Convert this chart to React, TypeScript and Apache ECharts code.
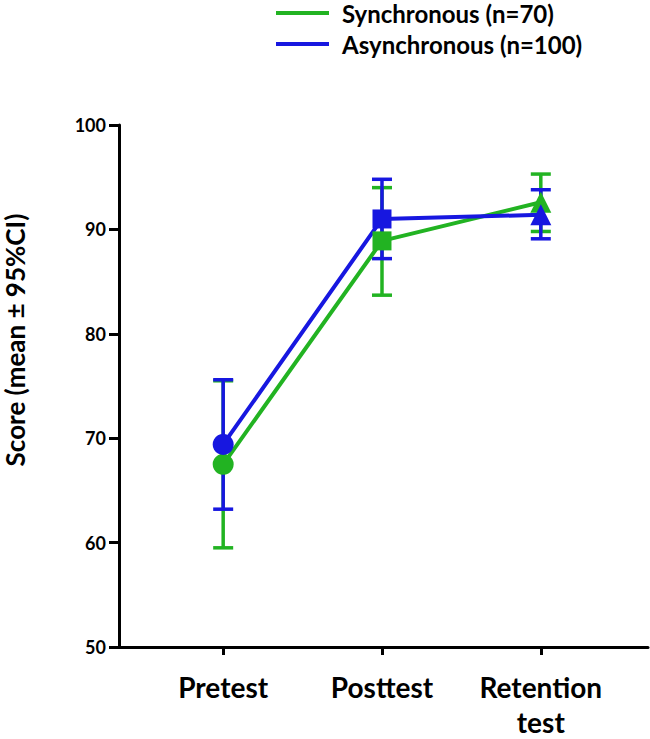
import React, { useEffect, useRef } from "react";
import * as echarts from "echarts";

const categories = ["Pretest", "Posttest", "Retention\ntest"];
const categoryPos = [0, 1, 2];
const seriesNames = ["Synchronous (n=70)", "Asynchronous (n=100)"];
const syncMean = [67.5, 88.9, 92.6];
const syncLow = [59.5, 83.7, 89.8];
const syncHigh = [75.5, 94.0, 95.3];
const asyncMean = [69.4, 91.0, 91.4];
const asyncLow = [63.2, 87.2, 89.1];
const asyncHigh = [75.6, 94.8, 93.8];
const symbols = ["circle", "rect", "triangle"];
const yTitle = "Score (mean \u00b1 95%CI)";

const GREEN = "#22b322";
const BLUE = "#1717e0";
const FONT = "Lato";

function errorSeries(name: string, low: number[], high: number[], color: string) {
  return {
    type: "custom",
    name,
    data: categoryPos.map((x, i) => [x, low[i], high[i]]),
    encode: { x: 0, y: [1, 2] },
    renderItem: (params: any, api: any) => {
      const x = api.value(0);
      const lo = api.coord([x, api.value(1)]);
      const hi = api.coord([x, api.value(2)]);
      const hw = 10;
      const style = { stroke: color, lineWidth: 3.5 };
      return {
        type: "group",
        children: [
          { type: "line", shape: { x1: lo[0], y1: lo[1], x2: hi[0], y2: hi[1] }, style },
          { type: "line", shape: { x1: lo[0] - hw, y1: lo[1], x2: lo[0] + hw, y2: lo[1] }, style },
          { type: "line", shape: { x1: hi[0] - hw, y1: hi[1], x2: hi[0] + hw, y2: hi[1] }, style },
        ],
      };
    },
  };
}

function lineSeries(name: string, mean: number[], color: string) {
  return {
    type: "line",
    name,
    data: categoryPos.map((x, i) => ({
      value: [x, mean[i]],
      symbol: symbols[i],
      symbolSize: symbols[i] === "rect" ? 19 : 21,
    })),
    lineStyle: { color, width: 4 },
    itemStyle: { color },
  };
}

export default function App() {
  const ref = useRef<HTMLDivElement>(null);
  useEffect(() => {
    if (!ref.current) return;
    const chart = echarts.init(ref.current, undefined, { renderer: "svg" });
    const labelStyle = { fontFamily: FONT, fontWeight: "bold", color: "#000" };
    chart.setOption({
      animation: false,
      legend: {
        data: seriesNames,
        orient: "vertical",
        left: 276,
        top: -1,
        padding: 0,
        icon: "rect",
        itemWidth: 53,
        itemHeight: 4,
        itemGap: 3,
        textStyle: { ...labelStyle, fontSize: 24, lineHeight: 28, padding: [0, 0, 0, 8] },
      },
      grid: { left: 119, right: 2, top: 125, bottom: 86 },
      xAxis: {
        type: "value",
        min: -0.656,
        max: 2.675,
        splitLine: { show: false },
        axisLine: { show: true, onZero: false, lineStyle: { color: "#000", width: 3 } },
        axisTick: { show: true, customValues: categoryPos, length: 8, lineStyle: { color: "#000", width: 3 } },
        axisLabel: {
          customValues: categoryPos,
          margin: 22,
          ...labelStyle,
          fontSize: 28,
          lineHeight: 35,
          formatter: (v: number) => categories[Math.round(v)],
        },
      },
      yAxis: {
        type: "value",
        min: 50,
        max: 100,
        interval: 10,
        splitLine: { show: false },
        axisLine: { show: true, onZero: false, lineStyle: { color: "#000", width: 3 } },
        axisTick: { show: true, length: 10, lineStyle: { color: "#000", width: 3 } },
        axisLabel: { ...labelStyle, fontSize: 18, margin: 13 },
      },
      graphic: [
        {
          type: "text",
          x: 15,
          y: 340,
          rotation: Math.PI / 2,
          style: {
            text: yTitle,
            fontFamily: FONT,
            fontWeight: "bold",
            fontSize: 26,
            fill: "#000",
            align: "center",
            verticalAlign: "middle",
          },
        },
      ],
      series: [
        errorSeries("syncErr", syncLow, syncHigh, GREEN),
        lineSeries(seriesNames[0], syncMean, GREEN),
        errorSeries("asyncErr", asyncLow, asyncHigh, BLUE),
        lineSeries(seriesNames[1], asyncMean, BLUE),
      ],
    });
    return () => chart.dispose();
  }, []);
  return <div ref={ref} style={{ width: 650, height: 739, position: "absolute", left: 0, top: 0 }} />;
}
